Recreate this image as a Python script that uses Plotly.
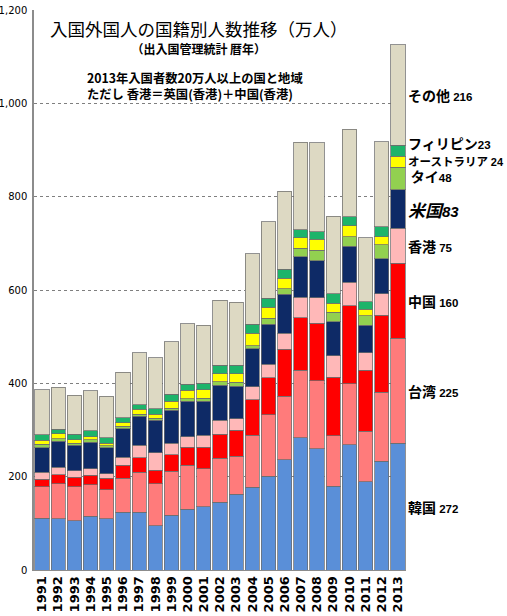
import plotly.graph_objects as go

years = [str(y) for y in range(1991, 2014)]

korea       = [111, 110, 106, 115, 110, 124, 124, 95, 117, 130, 136, 145, 162, 177, 201, 236, 283, 260, 180, 268, 189, 233, 272]
taiwan      = [67, 75, 72, 68, 62, 73, 86, 90, 95, 94, 81, 94, 82, 112, 132, 136, 145, 146, 108, 131, 108, 148, 225]
china       = [17, 19, 21, 20, 25, 27, 31, 29, 35, 39, 46, 52, 56, 76, 79, 101, 113, 123, 125, 167, 131, 165, 160]
hongkong    = [14, 16, 14, 14, 9, 18, 26, 37, 25, 23, 26, 30, 24, 28, 29, 34, 44, 54, 46, 51, 38, 46, 75]
usa         = [53, 56, 54, 57, 56, 61, 62, 70, 70, 76, 73, 75, 70, 81, 86, 84, 86, 80, 73, 77, 58, 75, 83]
thai        = [8, 5, 5, 5, 4, 5, 5, 4, 5, 5, 6, 7, 8, 7, 12, 12, 18, 22, 20, 20, 21, 30, 48]
australia   = [8, 11, 7, 7, 6, 8, 10, 9, 15, 18, 18, 18, 19, 26, 24, 22, 23, 24, 20, 24, 14, 17, 24]
philippines = [12, 10, 12, 12, 11, 10, 10, 12, 15, 13, 14, 18, 18, 20, 19, 19, 17, 16, 20, 19, 16, 22, 23]
others      = [96, 90, 83, 86, 89, 98, 112, 109, 112, 130, 125, 139, 135, 151, 164, 168, 188, 191, 166, 188, 137, 182, 216]

series_names = ["韓国", "台湾", "中国", "香港", "米国", "タイ", "オーストラリア", "フィリピン", "その他"]
series_values = [korea, taiwan, china, hongkong, usa, thai, australia, philippines, others]
colors = ["#5A8FD8", "#FF7B7B", "#FF0000", "#FFB8B8", "#0E2A66", "#92D050", "#FFFF00", "#1DB46A", "#DDD9C3"]

JP = "Noto Sans CJK JP"
NUM = "Liberation Sans"

fig = go.Figure()
for name, vals, col in zip(series_names, series_values, colors):
    fig.add_trace(go.Bar(
        x=years, y=vals, name=name,
        marker=dict(color=col, line=dict(color="rgba(110,110,110,0.75)", width=1)),
    ))


def label(name, v, jsize=14, sep=" ", nsize=11.5):
    return (f"<b><span style='font-size:{jsize}px'>{name}</span>{sep}"
            f"<span style='font-family:{NUM};font-size:{nsize}px'>{v}</span></b>")


# 2013 segment centers
last = {n: vals[-1] for n, vals in zip(series_names, series_values)}
centers = {}
cum = 0
for name, vals in zip(series_names, series_values):
    centers[name] = cum + vals[-1] / 2
    cum += vals[-1]

annotations = []
for name in ["韓国", "台湾", "中国", "香港", "その他"]:
    annotations.append(dict(
        x=1, xref="paper", y=centers[name], yref="y", xanchor="left", yanchor="middle",
        xshift=1, text=label(name, last[name]), showarrow=False, borderpad=0,
        font=dict(family=JP, size=14, color="black"),
    ))

annotations.append(dict(
    x=1, xref="paper", y=centers["米国"], yref="y", xanchor="left", yanchor="middle",
    xshift=1, showarrow=False, borderpad=0,
    text=(f"<i><b><span style='font-size:17px'>米国</span>"
          f"<span style='font-family:{NUM};font-size:15px'>{last['米国']}</span></b></i>"),
    font=dict(family=JP, size=14, color="black"),
))

small_block = "<br>".join([
    label("フィリピン", last["フィリピン"], 14, ""),
    label("オーストラリア", last["オーストラリア"], 11.5, " ", 11),
    " " + label("タイ", last["タイ"], 14, ""),
])
annotations.append(dict(
    x=1, xref="paper", y=centers["オーストラリア"], yref="y", xanchor="left", yanchor="middle",
    xshift=1, yshift=2, text=small_block, showarrow=False, align="left", borderpad=0,
    font=dict(family=JP, size=12.7, color="black"),
))

annotations += [
    dict(x=0.444, y=0.952, xref="paper", yref="paper", xanchor="center", yanchor="middle",
         text=("<span style='font-size:17.5px'>入国外国人の国籍別人数推移（万人）</span><br>"
               "<b><span style='font-size:12px'>（出入国管理統計 暦年）</span></b>"),
         showarrow=False, align="center", borderpad=0,
         font=dict(family=JP, size=14, color="black")),
    dict(x=0.14, y=0.864, xref="paper", yref="paper", xanchor="left", yanchor="middle",
         text="<b>2013年入国者数20万人以上の国と地域<br>ただし 香港＝英国(香港)＋中国(香港)</b>",
         showarrow=False, align="left", borderpad=0,
         font=dict(family=JP, size=12.3, color="black")),
]

fig.update_layout(
    barmode="stack",
    bargap=0.12,
    width=507, height=616,
    margin=dict(l=34, r=101, t=10, b=46, autoexpand=False),
    paper_bgcolor="white", plot_bgcolor="white",
    showlegend=False,
    hovermode=False,
    annotations=annotations,
    xaxis=dict(
        type="category", tickangle=-90, showgrid=False,
        tickmode="array", tickvals=years, ticktext=years,
        tickfont=dict(family="DejaVu Sans", size=13, color="black", weight="bold"),
        showline=True, linecolor="#8c8c8c", linewidth=1, ticks="",
        range=[-0.5, 22.5], automargin=False,
    ),
    yaxis=dict(
        range=[0, 1200], dtick=200, tickformat=",d",
        tickfont=dict(family="DejaVu Sans", size=10, color="black"),
        showgrid=True, gridcolor="#7f7f7f", griddash="dot", gridwidth=1,
        showline=True, linecolor="#8c8c8c", linewidth=1.5,
        zeroline=False, ticks="", ticklabelstandoff=3, automargin=False,
    ),
)

# remove the browser's default 8px body margin so the figure sits at the window origin
fig.write_html(
    "out.html",
    config={"displayModeBar": False},
    post_script="document.body.style.margin='0';document.body.style.overflow='hidden';",
)
